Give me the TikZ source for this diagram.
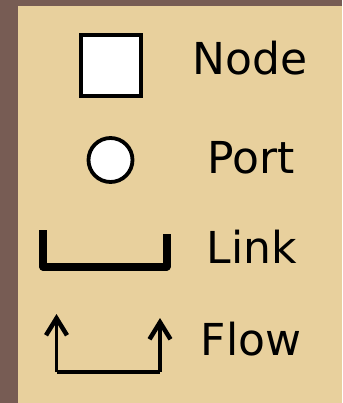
\documentclass[tikz,border=0pt]{standalone}
\usepackage{fontspec}
\setmainfont{DejaVu Sans}
\usetikzlibrary{arrows.meta}

\definecolor{frame}{RGB}{119,92,84}
\definecolor{paper}{RGB}{232,208,157}

\tikzset{
  nodebox/.style={draw, line width=4.2pt, fill=white, minimum width=59.5pt, minimum height=60.5pt, inner sep=0pt},
  portdot/.style={draw, circle, line width=3.8pt, fill=white, minimum size=44pt, inner sep=0pt},
  linkline/.style={line width=8pt, line join=round},
  flowline/.style={line width=3.6pt, -{Straight Barb[length=17pt, width=21pt, line width=4.5pt]}},
  lbl/.style={anchor=base, inner sep=0pt, font=\fontsize{44}{50}\selectfont}
}

\begin{document}
\begin{tikzpicture}[x=1pt, y=-1pt]
  \useasboundingbox (0,0) rectangle (342,403);
  \fill[frame] (0,0) rectangle (342,403);
  \fill[paper] (18,6) rectangle (342,403);

  % legend symbols
  \node[nodebox] (node-sym) at (111,65.5) {};
  \node[portdot] (port-sym) at (110.5,160) {};

  \coordinate (link-a) at (43,230);
  \coordinate (link-b) at (43,266.5);
  \coordinate (link-c) at (166.5,266.5);
  \coordinate (link-d) at (166.5,234);
  \draw[linkline] (link-a) -- (link-b) -- (link-c) -- (link-d);

  \coordinate (flow-a) at (56.5,314);
  \coordinate (flow-b) at (56.5,372);
  \coordinate (flow-c) at (160,372);
  \coordinate (flow-d) at (160,318);
  \draw[flowline] (flow-b) -- (flow-a);
  \draw[flowline] (flow-c) -- (flow-d);
  \draw[line width=3.6pt] (flow-b) -- (flow-c);

  % labels
  \node[lbl] (node-lbl) at (250,75) {Node};
  \node[lbl] (port-lbl) at (251,173) {Port};
  \node[lbl] (link-lbl) at (252,263) {Link};
  \node[lbl] (flow-lbl) at (251,355) {Flow};
\end{tikzpicture}
\end{document}
